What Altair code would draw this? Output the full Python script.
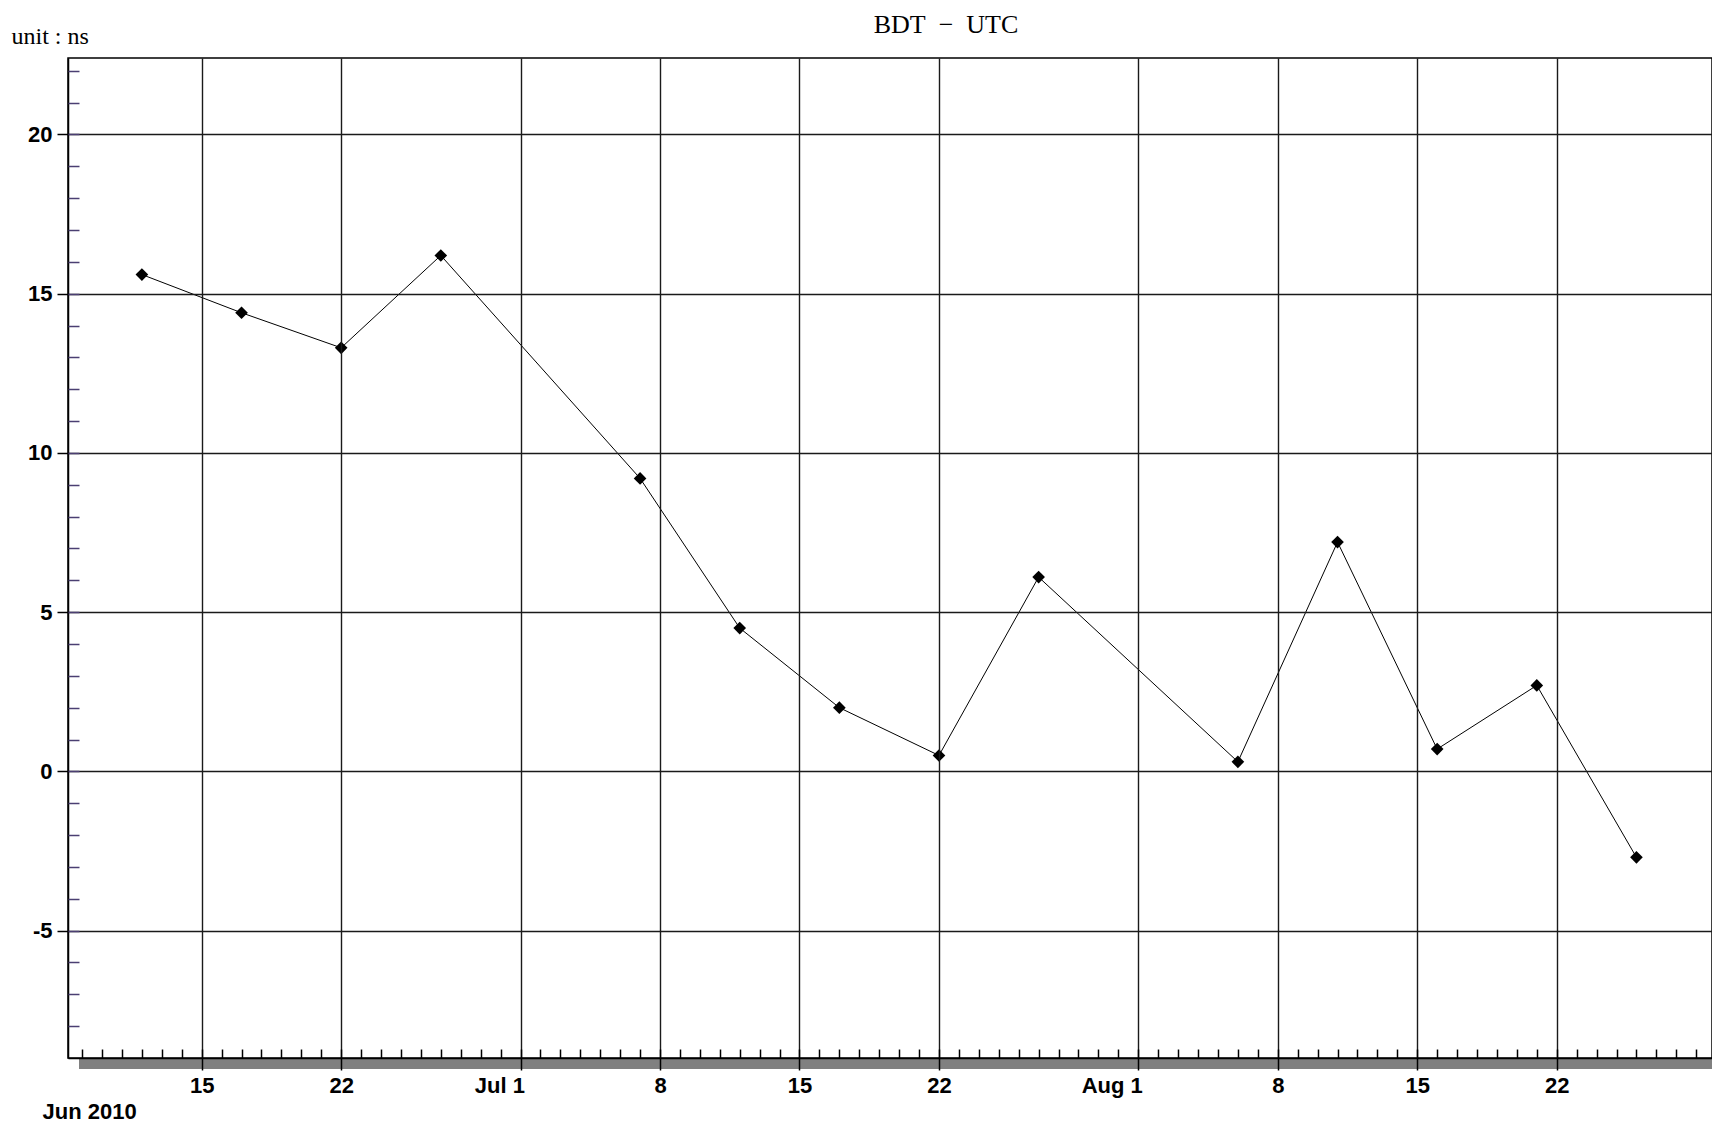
import altair as alt
import pandas as pd

# ---- data ----
dates = ["2010-06-12", "2010-06-17", "2010-06-22", "2010-06-27", "2010-07-07",
         "2010-07-12", "2010-07-17", "2010-07-22", "2010-07-27", "2010-08-06",
         "2010-08-11", "2010-08-16", "2010-08-21", "2010-08-26"]
values = [15.6, 14.4, 13.3, 16.2, 9.2, 4.5, 2.0, 0.5, 6.1, 0.3, 7.2, 0.7, 2.7, -2.7]

major_x = ["2010-06-15", "2010-06-22", "2010-07-01", "2010-07-08", "2010-07-15",
           "2010-07-22", "2010-08-01", "2010-08-08", "2010-08-15", "2010-08-22"]
major_y = [-5, 0, 5, 10, 15, 20]
minor_y = list(range(-8, 23))

title_text = "BDT\u00a0\u00a0\u2212\u00a0\u00a0UTC"

df = pd.DataFrame({"date": dates, "value": values})


def dt(s, h=0):
    y, m, d = map(int, s.split("-"))
    return alt.DateTime(year=y, month=m, date=d, hours=h, utc=True)


minor_x = [dt(d.strftime("%Y-%m-%d")) for d in pd.date_range("2010-06-09", "2010-08-29", freq="D")]

W, H = 1644, 1000
LABEL_FONT = "Liberation Sans"

xscale = alt.Scale(type="utc", domain=[dt("2010-06-08", 7), dt("2010-08-29", 19)], nice=False)
yscale = alt.Scale(domain=[-9, 22.4], nice=False, zero=False)

is_first = "utcdate(datum.value) == 1"

xaxis = alt.Axis(
    values=[dt(s) for s in major_x],
    labelExpr=f"{is_first} ? utcFormat(datum.value, '%b %-d') : utcFormat(datum.value, '%-d')",
    labelAlign={"condition": {"test": is_first, "value": "right"}, "value": "center"},
    labelOffset={"condition": {"test": is_first, "value": 4}, "value": 0},
    labelFont=LABEL_FONT, labelFontSize=22, labelFontWeight="bold", labelColor="black",
    labelPadding=5, labelBaseline="top",
    tickSize=12, tickColor="black", tickWidth=1.5,
    domain=True, domainColor="black", domainWidth=1.5,
    grid=True, gridColor="#1a1a1a", gridWidth=1.4,
    title="Jun 2010", titleFont=LABEL_FONT, titleFontSize=22, titleFontWeight="bold",
    titleColor="black", titleAlign="left", titleBaseline="alphabetic",
    titleX=-26, titleY=60, zindex=1,
)

yaxis = alt.Axis(
    values=major_y,
    labelExpr="datum.value < 0 ? '-' + abs(datum.value) : '' + datum.value",
    labelFont=LABEL_FONT, labelFontSize=22, labelFontWeight="bold", labelColor="black",
    labelPadding=5,
    tickSize=11, tickColor="black", tickWidth=1.5,
    domain=True, domainColor="black", domainWidth=1.5,
    grid=True, gridColor="#1a1a1a", gridWidth=1.4,
    title="unit : ns", titleFont="Liberation Serif", titleFontSize=24, titleFontWeight="normal",
    titleColor="black", titleAngle=0, titleAlign="left", titleBaseline="alphabetic",
    titleX=-57, titleY=-15, zindex=1,
)

xminor = alt.Axis(orient="bottom", values=minor_x, offset=-9, tickSize=9, tickColor="black",
                  tickWidth=1.5, labels=False, domain=False, grid=False, title=None, zindex=1)
yminor = alt.Axis(orient="left", values=minor_y, offset=-11, tickSize=11, tickColor="#4b3f72",
                  tickWidth=1.5, labels=False, domain=False, grid=False, title=None, zindex=1)

one = alt.Data(values=[{}])

band = alt.Chart(one).mark_rect(color="#808080").encode(
    x=alt.value(11), x2=alt.value(W), y=alt.value(H + 1), y2=alt.value(H + 11)
)

title = alt.Chart(one).mark_text(
    font="Liberation Serif", fontSize=26, color="black", align="center", baseline="alphabetic"
).encode(x=alt.value(W / 2 + 56), y=alt.value(-25), text=alt.value(title_text))

line = alt.Chart(df).mark_line(
    color="black", strokeWidth=1,
    point=alt.OverlayMarkDef(shape="diamond", filled=True, color="black", size=160, opacity=1),
).encode(
    x=alt.X("date:T", scale=xscale, axis=xaxis),
    y=alt.Y("value:Q", scale=yscale, axis=yaxis),
)

minor = alt.Chart(df).mark_point(opacity=0).encode(
    x=alt.X("date:T", scale=xscale, axis=xminor),
    y=alt.Y("value:Q", scale=yscale, axis=yminor),
)

chart = alt.layer(band, line, minor, title).resolve_axis(x="independent", y="independent").properties(
    width=W, height=H,
    autosize=alt.AutoSizeParams(type="none"),
    padding={"left": 60, "top": 50, "right": 0, "bottom": 66},
    background="white",
).configure_view(stroke="black", strokeWidth=1.5)

chart.save("out.html", embed_options={"renderer": "svg", "actions": False})
